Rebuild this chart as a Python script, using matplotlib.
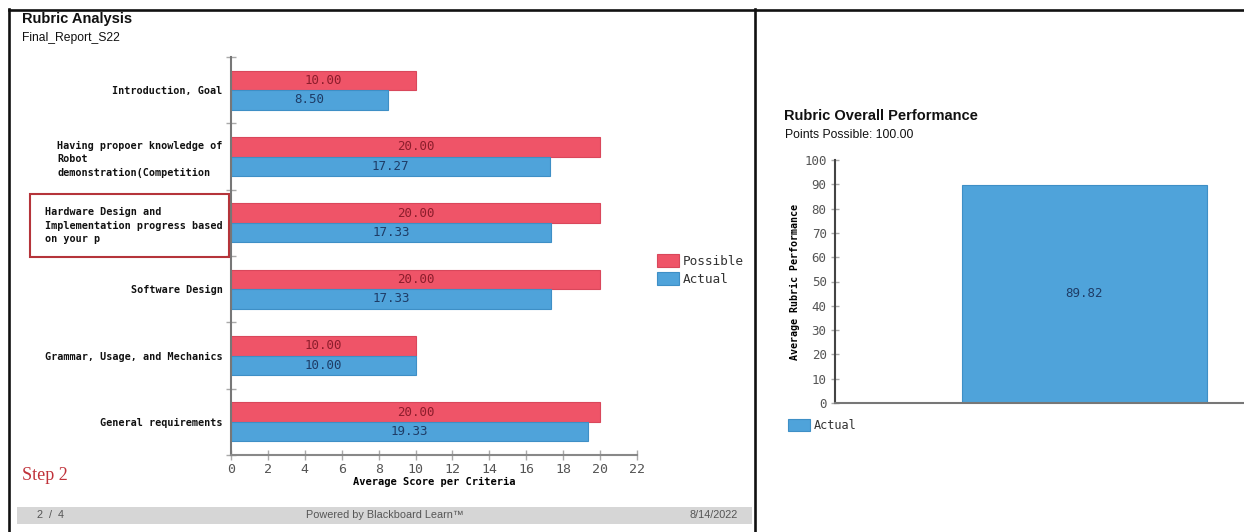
import matplotlib
matplotlib.use('Agg')
import numpy as np
import matplotlib.pyplot as plt
from matplotlib.patches import Rectangle
from matplotlib.lines import Line2D

W, H = 1244, 532

criteria = [
    "Introduction, Goal",
    "Having propoer knowledge of\nRobot\ndemonstration(Competition",
    "Hardware Design and\nImplementation progress based\non your p",
    "Software Design",
    "Grammar, Usage, and Mechanics",
    "General requirements",
]
possible = [10.00, 20.00, 20.00, 20.00, 10.00, 20.00]
actual = [8.50, 17.27, 17.33, 17.33, 10.00, 19.33]
x_ticks = [0, 2, 4, 6, 8, 10, 12, 14, 16, 18, 20, 22]

overall_labels = ["Actual"]
overall_values = [89.82]
points_possible = 100.00
y_ticks_overall = [0, 10, 20, 30, 40, 50, 60, 70, 80, 90, 100]

RED = "#ef5468"
RED_EDGE = "#d9475b"
RED_TXT = "#8c1d2c"
BLUE = "#4fa3da"
BLUE_EDGE = "#3e8fc6"
BLUE_TXT = "#1e3c66"
MONO = "DejaVu Sans Mono"
SANS = "Liberation Sans"


def px(x0, y0, x1, y1):
    # pixel box (top-left origin) -> figure fraction rect
    return [x0 / W, 1 - y1 / H, (x1 - x0) / W, (y1 - y0) / H]


def fx(x):
    return x / W


def fy(y):
    return 1 - y / H


fig = plt.figure(figsize=(W / 100, H / 100), dpi=100)
fig.patch.set_facecolor("white")

# page borders
for xs, ys in [((9, W), (9.5, 9.5)), ((9, 9), (9, H)), ((755, 755), (9, H))]:
    fig.add_artist(Line2D([fx(v) for v in xs], [fy(v) for v in ys],
                          color="#111111", lw=1.9))

# ---- rubric analysis (horizontal bars) ----
ax = fig.add_axes(px(231, 57, 637, 455))
y = np.arange(len(criteria))
bh = 0.295
bp = ax.barh(y - bh / 2, possible, height=bh, color=RED, edgecolor=RED_EDGE,
             lw=0.8, label="Possible")
ba = ax.barh(y + bh / 2, actual, height=bh, color=BLUE, edgecolor=BLUE_EDGE,
             lw=0.8, label="Actual")
for i in range(len(criteria)):
    ax.text(possible[i] / 2, y[i] - bh / 2, "%.2f" % possible[i], ha="center",
            va="center", family=MONO, fontsize=9, color=RED_TXT)
    ax.text(actual[i] / 2, y[i] + bh / 2, "%.2f" % actual[i], ha="center",
            va="center", family=MONO, fontsize=9, color=BLUE_TXT)

ax.set_xlim(0, 22)
ax.set_ylim(len(criteria) - 0.5, -0.5)
ax.set_xticks(x_ticks)
ax.set_xticklabels([str(t) for t in x_ticks], family=MONO, fontsize=9.5,
                   color="#555555")
ax.set_yticks(y)
ax.set_yticklabels(criteria, family=MONO, fontsize=7.3, fontweight="bold",
                   color="#111111", multialignment="left", linespacing=1.45)
ax.set_yticks(np.arange(len(criteria) + 1) - 0.5, minor=True)
ax.tick_params(axis="y", which="major", length=0, pad=6)
ax.tick_params(axis="y", which="minor", length=7, direction="inout",
               color="#aaaaaa", width=1)
ax.tick_params(axis="x", length=7, direction="inout", color="#aaaaaa",
               width=1, pad=2)
for s in ["top", "right"]:
    ax.spines[s].set_visible(False)
ax.spines["left"].set_color("#777777")
ax.spines["bottom"].set_color("#888888")
ax.spines["left"].set_linewidth(1.5)
ax.spines["bottom"].set_linewidth(1.5)
ax.set_xlabel("Average Score per Criteria", family=MONO, fontsize=7.5,
              fontweight="bold", labelpad=1)
ax.legend(handles=[bp, ba], loc="upper left",
          bbox_to_anchor=(fx(657), fy(254)), bbox_transform=fig.transFigure,
          frameon=False, borderpad=0, borderaxespad=0, handlelength=1.75,
          handleheight=1.2, handletextpad=0.3, labelspacing=0.3,
          prop={"family": MONO, "size": 9.2}, labelcolor="#333333")

# box around the hardware criterion label
fig.add_artist(Rectangle((fx(30), fy(257)), (229 - 30) / W, (257 - 194) / H,
                         transform=fig.transFigure, fill=False,
                         edgecolor="#b5343a", lw=1.5))

fig.text(fx(22), fy(19), "Rubric Analysis", family=SANS, fontweight="bold",
         fontsize=10.5, va="center", color="#111111")
fig.text(fx(22), fy(38), "Final_Report_S22", family=SANS, fontsize=8.7,
         va="center", color="#111111")
fig.text(fx(22), fy(475), "Step 2", family="Liberation Serif", fontsize=13,
         va="center", color="#c0323a")

# footer band
fig.add_artist(Rectangle((fx(17), fy(524)), (752 - 17) / W, (524 - 507) / H,
                         transform=fig.transFigure, facecolor="#d6d6d6",
                         edgecolor="none"))
fig.text(fx(37), fy(515.5), "2  /  4", family=SANS, fontsize=7.8,
         va="center", color="#555555")
fig.text(fx(385), fy(515.5), "Powered by Blackboard Learn\u2122", family=SANS,
         fontsize=7.8, va="center", ha="center", color="#555555")
fig.text(fx(738), fy(515.5), "8/14/2022", family=SANS, fontsize=7.8,
         va="center", ha="right", color="#555555")

# ---- overall performance (single column) ----
ax2 = fig.add_axes(px(835, 160, 1244, 403))
b2 = ax2.bar([0], overall_values, width=1.0, color=BLUE, edgecolor=BLUE_EDGE,
             lw=0.8, label=overall_labels[0])
ax2.text(0, overall_values[0] / 2, "%.2f" % overall_values[0], ha="center",
         va="center", family=MONO, fontsize=9, color=BLUE_TXT)
ax2.set_xlim(-1.018, 0.651)
ax2.set_ylim(0, 100)
ax2.set_xticks([])
ax2.set_yticks(y_ticks_overall)
ax2.set_yticklabels([str(t) for t in y_ticks_overall], family=MONO,
                    fontsize=9, color="#555555")
ax2.tick_params(axis="y", length=6, direction="inout", color="#aaaaaa",
                width=1, pad=3)
for s in ["top", "right"]:
    ax2.spines[s].set_visible(False)
ax2.spines["left"].set_color("#444444")
ax2.spines["bottom"].set_color("#777777")
ax2.spines["left"].set_linewidth(1.5)
ax2.spines["bottom"].set_linewidth(1.5)
ax2.set_ylabel("Average Rubric Performance", family=MONO, fontsize=7.2,
               fontweight="bold", labelpad=3)
ax2.legend(handles=[b2], loc="upper left", bbox_to_anchor=(fx(788), fy(419)),
           bbox_transform=fig.transFigure, frameon=False, borderpad=0,
           borderaxespad=0, handlelength=1.8, handleheight=1.1,
           handletextpad=0.4, prop={"family": MONO, "size": 8.6},
           labelcolor="#333333")

fig.text(fx(784), fy(116), "Rubric Overall Performance", family=SANS,
         fontweight="bold", fontsize=10.5, va="center", color="#111111")
fig.text(fx(785), fy(135), "Points Possible: %.2f" % points_possible,
         family=SANS, fontsize=8.8, va="center", color="#111111")

fig.savefig("out.png", dpi=100, facecolor="white")
